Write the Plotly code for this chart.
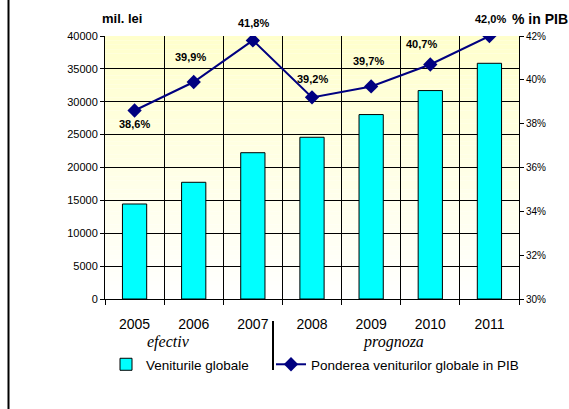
import plotly.graph_objects as go

years = ["2005", "2006", "2007", "2008", "2009", "2010", "2011"]
venituri = [14450, 17750, 22250, 24600, 28050, 31700, 35850]
pondere = [38.6, 39.9, 41.8, 39.2, 39.7, 40.7, 42.0]
label_yshift = [-13, 25, 17, 18, 25, 20, 17]
label_xshift = [0, -3, 1, 0, -3, -9, 1]

FONT = "Arial, Liberation Sans, sans-serif"
SERIF = "Times New Roman, Liberation Serif, serif"

fig = go.Figure()
fig.add_trace(go.Bar(
    x=years, y=venituri, name="Veniturile globale",
    marker=dict(color="#00FFFF", line=dict(color="#000000", width=1)),
    width=0.41, yaxis="y", legend="legend",
))
fig.add_trace(go.Scatter(
    x=years, y=pondere, name="Ponderea veniturilor globale in PIB",
    mode="lines+markers", yaxis="y2", legend="legend2",
    line=dict(color="#000080", width=2),
    marker=dict(symbol="diamond", size=11, color="#000080"),
))

L, R, T, B = 105, 50, 36, 110
W, H = 569, 409
pw, ph = W - L - R, H - T - B


def px(xp):
    return (xp - L) / pw


def py(yp):
    return (H - B - yp) / ph


shapes = []
# gradient background of plot area
n = 60
for i in range(n):
    f = (i + 0.5) / n  # 0 bottom -> 1 top
    b = int(round(255 - (255 - 204) * f))
    shapes.append(dict(type="rect", xref="x domain", yref="y domain",
                       x0=0, x1=1, y0=i / n, y1=(i + 1) / n,
                       fillcolor=f"rgb(255,255,{b})", line=dict(width=0),
                       layer="below"))
# left border of chart frame
shapes.append(dict(type="line", xref="paper", yref="paper",
                   x0=px(8.5), x1=px(8.5), y0=py(H), y1=py(0),
                   line=dict(color="#000000", width=2)))
# separator efectiv / prognoza
shapes.append(dict(type="line", xref="paper", yref="paper",
                   x0=px(273), x1=px(273), y0=py(321), y1=py(370),
                   line=dict(color="#000000", width=2)))

annotations = []
for i, (v, ys, xs) in enumerate(zip(pondere, label_yshift, label_xshift)):
    annotations.append(dict(x=i, y=v, xref="x", yref="y2",
                            text=f"{v:.1f}".replace(".", ",") + "%",
                            showarrow=False, yshift=ys, xshift=xs,
                            xanchor="center", yanchor="middle",
                            font=dict(family=FONT, size=11, color="#000000", weight="bold")))
annotations += [
    dict(x=px(122), y=py(18), xref="paper", yref="paper",
         text="<b>mil. lei</b>", showarrow=False, xanchor="center", yanchor="middle",
         font=dict(family=FONT, size=13, color="#000000")),
    dict(x=px(540), y=py(19), xref="paper", yref="paper",
         text="<b>% in PIB</b>", showarrow=False, xanchor="center", yanchor="middle",
         font=dict(family=FONT, size=14, color="#000000")),
    dict(x=px(168.5), y=py(342), xref="paper", yref="paper",
         text="<i>efectiv</i>", showarrow=False, xanchor="center", yanchor="middle",
         font=dict(family=SERIF, size=16, color="#000000")),
    dict(x=px(393), y=py(342), xref="paper", yref="paper",
         text="<i>prognoza</i>", showarrow=False, xanchor="center", yanchor="middle",
         font=dict(family=SERIF, size=16, color="#000000")),
]

legend_common = dict(orientation="h", yanchor="top", xanchor="left",
                     font=dict(family=FONT, size=13.5, color="#000000"),
                     bgcolor="rgba(0,0,0,0)")

fig.update_layout(
    width=W, height=H,
    margin=dict(l=L, r=R, t=T, b=B, pad=0),
    paper_bgcolor="#FFFFFF", plot_bgcolor="rgba(0,0,0,0)",
    font=dict(family=FONT, color="#000000"),
    showlegend=True,
    legend=dict(x=px(106), y=py(349), **legend_common),
    legend2=dict(x=px(271), y=py(349), **legend_common),
    bargap=0.59,
    xaxis=dict(type="category", range=[-0.5, len(years) - 0.5],
               tickson="boundaries", showgrid=True,
               gridcolor="#000000", gridwidth=1,
               showline=True, linecolor="#000000", linewidth=1,
               ticks="outside", ticklen=5, tickcolor="#000000",
               ticklabelstandoff=12,
               tickfont=dict(family=FONT, size=14, color="#000000")),
    yaxis=dict(range=[0, 40000], dtick=5000, tickformat="d", showgrid=True,
               gridcolor="#000000", gridwidth=1, zeroline=False,
               showline=True, linecolor="#000000", linewidth=1,
               ticks="outside", ticklen=4, tickcolor="#000000",
               tickfont=dict(family=FONT, size=11, color="#000000")),
    yaxis2=dict(range=[30, 42], dtick=2, overlaying="y", side="right",
                showgrid=False, zeroline=False, ticksuffix="%",
                showline=True, linecolor="#000000", linewidth=1,
                ticks="outside", ticklen=4, tickcolor="#000000",
                tickfont=dict(family=FONT, size=10, color="#000000")),
    shapes=shapes, annotations=annotations,
)

fig.write_html("out.html")
